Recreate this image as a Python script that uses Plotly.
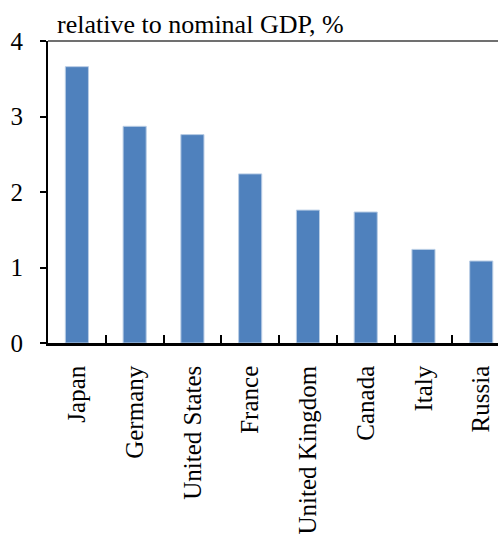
import plotly.graph_objects as go

countries = ["Japan", "Germany", "United States", "France", "United Kingdom", "Canada", "Italy", "Russia"]
values = [3.66, 2.87, 2.76, 2.24, 1.76, 1.735, 1.24, 1.086]
y_ticks = [0, 1, 2, 3, 4]
title_text = "relative to nominal GDP, %"

FONT = "Liberation Serif, Times New Roman, serif"

fig = go.Figure()
fig.add_trace(go.Bar(
    x=countries, y=values, width=0.4,
    marker=dict(color="#4F81BD", line=dict(color="#B9CDE5", width=1)),
))

fig.update_layout(
    width=498, height=536,
    margin=dict(l=48, r=0, t=41, b=193),
    paper_bgcolor="white", plot_bgcolor="white",
    showlegend=False,
    font=dict(family=FONT, color="black"),
    title=dict(text=title_text, xref="container", yref="container",
               x=57/498, xanchor="left", y=1 - 33/536, yanchor="bottom",
               font=dict(family=FONT, size=26, color="black"), pad=dict(t=0, b=0, l=0, r=0)),
    xaxis=dict(
        type="category", range=[-0.5, 7.29],
        showline=True, linecolor="black", linewidth=2.5,
        ticks="inside", tickson="boundaries", ticklen=8, tickcolor="black", tickwidth=1.5,
        tickangle=-90, tickfont=dict(family=FONT, size=25, color="black"),
        ticklabelstandoff=10,
        showgrid=False, zeroline=False,
    ),
    yaxis=dict(
        range=[0, 4], tickvals=y_ticks,
        showline=True, linecolor="black", linewidth=2,
        ticks="outside", ticklen=6, tickcolor="black", tickwidth=1.5,
        tickfont=dict(family=FONT, size=25, color="black"),
        ticklabelstandoff=12,
        showgrid=False, zeroline=False,
    ),
    shapes=[dict(type="line", xref="paper", yref="paper", x0=0, x1=1, y0=1, y1=1,
                 line=dict(color="#404040", width=1.5))],
)

fig.write_html("out.html", config={"displayModeBar": False},
               post_script="document.body.style.margin='0';document.body.style.overflow='hidden';")
